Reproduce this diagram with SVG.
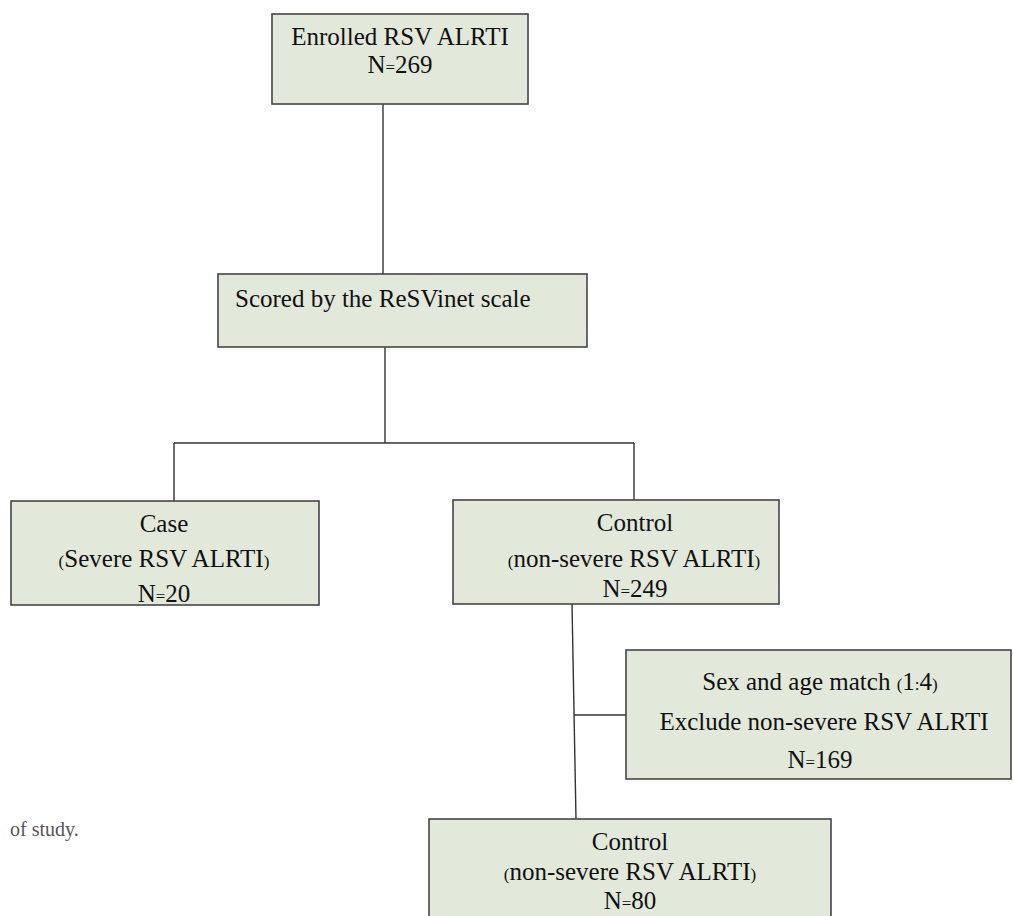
<svg xmlns="http://www.w3.org/2000/svg" width="1013" height="916" viewBox="0 0 1013 916">
<style>
.box{fill:#e2e8da;stroke:#454545;stroke-width:1.6}
.t{font-family:"Liberation Serif","Times New Roman",serif;font-size:25px;fill:#111}
.c{text-anchor:middle}
.s{font-size:17px}
.ln{stroke:#333;stroke-width:1.4;fill:none}
.cap{font-family:"Liberation Serif","Times New Roman",serif;font-size:20px;fill:#555}
</style>
<rect width="1013" height="916" fill="#fff"/>
<g id="connectors">
<line class="ln" x1="383" y1="104" x2="383" y2="274"/>
<line class="ln" x1="385" y1="347" x2="385" y2="443"/>
<line class="ln" x1="174" y1="443" x2="634" y2="443"/>
<line class="ln" x1="174" y1="443" x2="174" y2="501"/>
<line class="ln" x1="634" y1="443" x2="634" y2="500"/>
<line class="ln" x1="572" y1="604" x2="576" y2="819"/>
<line class="ln" x1="574" y1="715" x2="626" y2="715"/>
</g>
<g id="enrolled">
<rect class="box" x="272" y="14" width="256" height="90"/>
<text class="t c" x="400" y="45">Enrolled RSV ALRTI</text>
<text class="t c" x="400" y="73">N<tspan class="s">=</tspan>269</text>
</g>
<g id="scored">
<rect class="box" x="218" y="274" width="369" height="73"/>
<text class="t" x="235" y="307">Scored by the ReSVinet scale</text>
</g>
<g id="case">
<rect class="box" x="11" y="501" width="308" height="104"/>
<text class="t c" x="164" y="532">Case</text>
<text class="t c" x="164" y="567"><tspan class="s">(</tspan>Severe RSV ALRTI<tspan class="s">)</tspan></text>
<text class="t c" x="164" y="602">N<tspan class="s">=</tspan>20</text>
</g>
<g id="control1">
<rect class="box" x="453" y="500" width="326" height="104"/>
<text class="t c" x="635" y="531">Control</text>
<text class="t c" x="634" y="567"><tspan class="s">(</tspan>non-severe RSV ALRTI<tspan class="s">)</tspan></text>
<text class="t c" x="635" y="597">N<tspan class="s">=</tspan>249</text>
</g>
<g id="match">
<rect class="box" x="626" y="650" width="385" height="129"/>
<text class="t c" x="820" y="690">Sex and age match <tspan class="s">(</tspan>1<tspan class="s">:</tspan>4<tspan class="s">)</tspan></text>
<text class="t c" x="824" y="730">Exclude non-severe RSV ALRTI</text>
<text class="t c" x="820" y="768">N<tspan class="s">=</tspan>169</text>
</g>
<g id="control2">
<rect class="box" x="429" y="819" width="402" height="110"/>
<text class="t c" x="630" y="850">Control</text>
<text class="t c" x="630" y="880"><tspan class="s">(</tspan>non-severe RSV ALRTI<tspan class="s">)</tspan></text>
<text class="t c" x="630" y="909">N<tspan class="s">=</tspan>80</text>
</g>
<text class="cap" x="10" y="836">of study.</text>
</svg>
